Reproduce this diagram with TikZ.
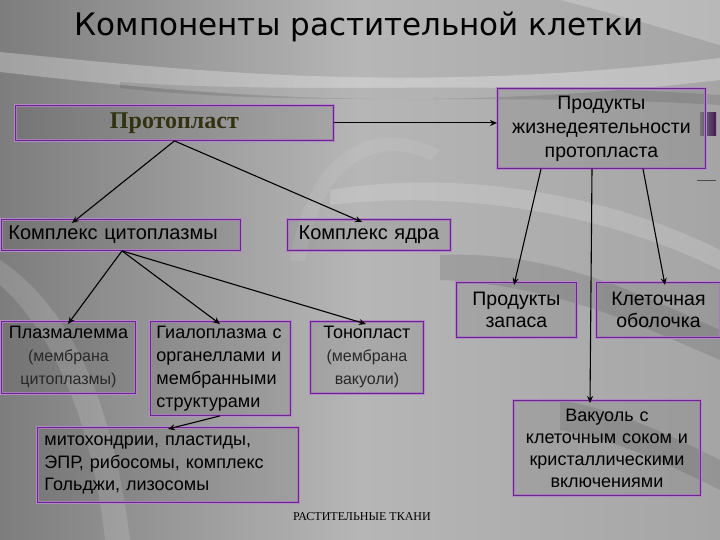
\documentclass[tikz,border=0pt]{standalone}
\usepackage{fontspec}
\setmainfont{Liberation Sans}
\newfontfamily\serifru{Liberation Serif}
\newfontfamily\titlefont{DejaVu Sans}
\usetikzlibrary{arrows.meta,calc}
\definecolor{bpurple}{RGB}{105,40,135}
\definecolor{bglow}{RGB}{180,135,200}
\definecolor{olivetxt}{RGB}{50,50,18}
\definecolor{smalltxt}{RGB}{40,40,40}
\definecolor{bgl}{RGB}{125,125,125}
\definecolor{bgm}{RGB}{182,182,182}
\definecolor{bgr}{RGB}{165,165,165}
\newcommand{\smalltext}[1]{{\fontsize{16}{22}\selectfont\color{smalltxt}#1}}
\begin{document}
\begin{tikzpicture}[x=1pt,y=-1pt,
  box/.style={draw=bpurple, line width=0.9pt, preaction={draw=bglow, line width=2.8pt},
    fill=black, fill opacity=0.07, text opacity=1, anchor=north west,
    inner sep=0pt, align=center, font=\fontsize{19}{23}\selectfont},
  arr/.style={line width=1.1pt, -{Stealth[length=7pt,width=6pt]}}]
% background
\useasboundingbox (0,0) rectangle (720,540);
\shade[left color=bgl, right color=bgr, middle color=bgm] (0,0) rectangle (720,540);
\fill[white, opacity=0.28] (0,52) .. controls (200,72) and (420,95) .. (720,58) -- (720,80) .. controls (420,115) and (200,95) .. (0,72) -- cycle;
\fill[black, opacity=0.10] (120,82) .. controls (300,95) and (500,80) .. (720,95) -- (720,105) .. controls (500,92) and (300,108) .. (120,88) -- cycle;
\fill[white, opacity=0.22] (560,0) .. controls (640,20) and (700,40) .. (720,45) -- (720,0) -- cycle;
\fill[white, opacity=0.08] (290,260) .. controls (310,140) and (380,120) .. (440,150) -- (430,160) .. controls (380,135) and (320,160) .. (305,262) -- cycle;
\fill[white, opacity=0.16] (330,190) .. controls (450,170) and (600,190) .. (720,250) -- (720,270) .. controls (600,210) and (450,190) .. (330,205) -- cycle;
\fill[black, opacity=0.10] (440,255) .. controls (560,250) and (650,300) .. (720,330) -- (720,360) .. controls (650,330) and (560,285) .. (440,280) -- cycle;
\fill[black, opacity=0.10] (560,400) .. controls (620,410) and (680,440) .. (720,460) -- (720,490) .. controls (680,470) and (620,440) .. (560,430) -- cycle;
\fill[white, opacity=0.14] (0,260) .. controls (60,300) and (110,380) .. (130,540) -- (105,540) .. controls (90,400) and (40,320) .. (0,285) -- cycle;
\shade[left color=gray, right color=bpurple!60!black] (700,113) rectangle (716,136);
\draw[black!70, line width=0.8pt] (697,180) -- (716,180);
% title
\node[font=\titlefont\fontsize{31}{36}\selectfont] (title) at (359,27) {Компоненты растительной клетки};
% boxes
\node[box, minimum width=318, minimum height=35, text width=318,
  font=\serifru\bfseries\fontsize{24}{28}\selectfont, text=olivetxt] (proto) at (15,105) {Протопласт};
\node[box, minimum width=208, minimum height=80, text width=208,
  font=\fontsize{19.5}{24}\selectfont] (prod) at (497,88) {Продукты\\жизнедеятельности\\протопласта};
\node[box, minimum width=239, minimum height=31, text width=225, inner xsep=7pt, align=left,
  font=\fontsize{20}{24}\selectfont] (cyto) at (1,219) {Комплекс цитоплазмы};
\node[box, minimum width=163, minimum height=31, text width=163,
  font=\fontsize{20}{24}\selectfont] (nucl) at (287,219) {Комплекс ядра};
\node[box, minimum width=134, minimum height=72, text width=134, font=\fontsize{18}{23}\selectfont] (plasm) at (1,321)
  {Плазмалемма\\\smalltext{(мембрана}\\\smalltext{цитоплазмы)}};
\node[box, minimum width=140, minimum height=94, text width=128, inner xsep=6pt, align=left,
  font=\fontsize{18}{23}\selectfont] (hyalo) at (150,321)
  {Гиалоплазма с\\органеллами и\\мембранными\\структурами};
\node[box, minimum width=113, minimum height=72, text width=113, font=\fontsize{18}{23}\selectfont] (tono) at (310,321)
  {Тонопласт\\\smalltext{(мембрана}\\\smalltext{вакуоли)}};
\node[box, minimum width=120, minimum height=55, text width=120, font=\fontsize{19.5}{22}\selectfont] (zapas) at (456,282) {Продукты\\запаса};
\node[box, minimum width=124, minimum height=55, text width=118, inner xsep=0pt, align=left, font=\fontsize{19.5}{22}\selectfont] (obol) at (596,282)
  {\makebox[118pt][c]{Клеточная}\\\makebox[118pt][c]{оболочка}};
\node[box, minimum width=187, minimum height=95, text width=187, font=\fontsize{18}{22}\selectfont] (vac) at (513,400)
  {Вакуоль с\\клеточным соком и\\кристаллическими\\включениями};
\node[box, minimum width=261, minimum height=75, text width=247, inner xsep=7pt, align=left,
  font=\fontsize{18}{22.5}\selectfont] (mito) at (37,427)
  {митохондрии, пластиды,\\ЭПР, рибосомы, комплекс\\Гольджи, лизосомы};
\node[font=\serifru\fontsize{12}{14}\selectfont, text=black] (tkani) at (362,517) {РАСТИТЕЛЬНЫЕ ТКАНИ};
% connectors
\draw[arr] (proto.south) -- ([xshift=71pt,yshift=-4pt]cyto.north west);
\draw[arr] (proto.south) -- ([xshift=75pt,yshift=-3pt]nucl.north west);
\draw[arr] (proto.east) -- (proto.east -| prod.west);
\draw[arr] ([xshift=44pt]prod.south west) -- ([xshift=58pt,yshift=-3pt]zapas.north west);
\draw[arr] ([xshift=95pt]prod.south west) -- ([xshift=77pt,yshift=-3pt]vac.north west);
\draw[arr] ([xshift=146pt]prod.south west) -- ([xshift=69pt,yshift=-3pt]obol.north west);
\coordinate (cb) at ([xshift=121pt]cyto.south west);
\draw[arr] (cb) -- ([xshift=67pt,yshift=-3pt]plasm.north west);
\draw[arr] (cb) -- ([xshift=70pt,yshift=-3pt]hyalo.north west);
\draw[arr] (cb) -- ([xshift=56pt,yshift=-3pt]tono.north west);
\draw[arr] ([xshift=70pt]hyalo.south west) -- ([xshift=131pt,yshift=-2pt]mito.north west);
\end{tikzpicture}
\end{document}
